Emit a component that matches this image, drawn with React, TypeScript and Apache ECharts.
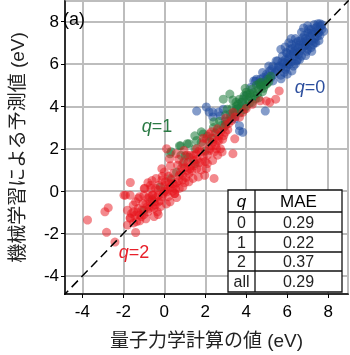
import React, { useEffect, useRef } from 'react';
import * as echarts from 'echarts';

// q = 0 (blue)
const q0Points: number[][] = [
  [7.32, 7.86], [7.63, 7.78], [7.78, 7.54], [7.16, 7.62], [7.01, 7.47], [7.47, 7.31], [7.32, 7.0], [7.16, 6.77],
  [6.85, 6.84], [6.54, 7.08], [6.77, 7.24], [6.23, 6.92], [6.16, 6.69], [6.47, 6.53], [6.7, 6.37], [7.01, 6.69],
  [6.08, 7.0], [5.69, 6.69], [5.77, 6.37], [5.46, 6.14], [5.85, 6.06], [6.08, 5.98], [6.31, 5.9], [6.23, 5.67],
  [5.92, 5.75], [5.3, 5.9], [5.15, 5.67], [4.99, 5.52], [4.68, 5.28], [4.6, 5.05], [4.37, 5.2], [5.69, 5.83],
  [5.69, 5.47], [6.0, 5.52], [7.23, 7.39], [6.93, 7.08], [7.5, 7.6], [7.4, 7.7], [7.1, 7.3], [6.9, 7.2],
  [6.6, 6.9], [6.4, 6.8], [6.3, 6.5], [6.6, 6.6], [6.9, 6.9], [7.2, 7.1], [7.5, 7.45], [6.1, 6.3],
  [5.9, 6.2], [6.0, 6.5], [5.6, 5.9], [5.4, 5.6], [5.2, 5.35], [5.0, 5.3], [4.8, 5.1], [5.5, 5.7],
  [6.4, 7.2], [6.7, 7.5], [7.0, 7.8], [6.2, 6.1], [5.8, 6.0], [7.6, 7.9], [5.53, 6.15], [4.5, 5.28],
  [4.22, 4.89], [4.45, 5.2], [4.84, 5.36], [3.99, 4.5], [3.75, 4.19], [3.52, 3.87], [3.21, 3.64], [3.44, 3.41],
  [3.67, 3.09], [3.83, 2.78], [2.74, 3.56], [1.58, 3.78], [2.05, 3.97], [2.37, 3.73], [2.88, 3.87], [2.19, 3.73],
  [2.65, 3.73], [2.37, 3.5], [2.98, 3.31], [4.93, 3.78], [3.67, 2.84], [6.5, 6.2], [7.3, 7.5], [7.7, 7.65],
  [7.45, 7.75], [7.55, 7.5], [7.35, 7.2], [7.05, 7.0], [6.8, 7.0], [6.95, 6.6], [6.75, 6.75], [6.55, 6.45],
  [6.35, 6.35], [6.45, 7.0], [6.25, 6.75], [6.05, 6.2], [5.95, 5.85], [5.75, 6.1], [5.55, 5.85], [5.35, 5.5],
  [5.25, 5.75], [5.05, 5.45], [4.9, 5.2], [4.7, 5.0], [6.85, 7.35], [7.15, 7.45], [7.6, 7.35], [7.05, 7.65],
  [6.65, 7.1], [6.35, 6.6], [6.15, 6.45], [5.95, 6.55], [6.55, 6.75], [7.25, 6.9], [5.85, 5.6], [6.45, 6.15],
  [6.6, 6.2], [7.4, 7.0], [7.7, 7.85], [7.5, 7.9], [6.9, 6.4], [7.2, 6.6], [6.4, 6.0], [5.7, 5.3],
  [5.3, 5.2], [6.2, 7.2], [5.9, 6.8], [6.8, 7.7], [7.55, 7.1], [5.1, 5.9], [4.8, 5.6], [6.0, 6.0]
];

// q = 1 (green)
const q1Points: number[][] = [
  [2.88, 4.34], [3.2, 4.58], [3.67, 4.34], [4.0, 4.67], [4.28, 4.81], [4.74, 5.14], [5.07, 5.28], [5.2, 5.42],
  [4.5, 5.0], [4.2, 4.6], [3.9, 4.5], [4.6, 4.8], [4.9, 5.0], [3.5, 4.2], [3.8, 4.2], [4.1, 4.3],
  [4.4, 4.5], [3.3, 3.9], [3.0, 3.6], [2.7, 3.3], [2.4, 3.0], [2.1, 2.6], [1.8, 2.3], [1.5, 2.0],
  [1.2, 1.6], [0.9, 1.3], [1.2, 2.24], [1.49, 2.61], [1.81, 2.8], [2.42, 3.27], [3.07, 3.87], [3.53, 4.02],
  [0.28, 1.76], [0.8, 2.14], [1.9, 2.7], [0.74, 2.14], [0.33, 1.86], [1.02, 1.67], [1.12, 2.24], [0.81, 1.69],
  [3.6, 3.9], [4.3, 4.2], [4.6, 4.4], [4.8, 4.7], [3.4, 3.6], [3.1, 3.3], [2.9, 3.0], [2.6, 2.9],
  [2.3, 2.5], [4.0, 4.0], [4.2, 4.45], [3.7, 3.7], [5.0, 5.05], [4.7, 4.95], [3.95, 4.85], [3.35, 4.3],
  [0.3, 0.6], [-0.2, 0.2], [-0.6, -0.4], [0.6, 0.9], [1.5, 1.3], [2.0, 1.9], [-1.0, -0.9], [1.58, 2.39],
  [3.6, 4.1], [3.85, 4.35], [4.05, 4.55], [4.35, 4.65], [4.55, 4.6], [4.15, 4.15], [3.75, 3.95], [3.45, 3.75],
  [3.25, 3.5], [4.65, 5.1], [4.85, 4.85], [5.1, 5.15], [3.9, 3.85], [4.45, 4.35], [2.8, 3.1], [3.0, 3.15],
  [2.5, 2.75], [2.2, 2.35]
];

// q = 2 (red)
const q2Points: number[][] = [
  [-3.75, -1.36], [-2.9, -0.97], [-2.74, -0.78], [-2.82, -1.94], [-2.41, -2.4], [-1.66, 0.41], [-1.97, -0.19], [-1.4, -1.95],
  [-1.66, -1.25], [-1.5, -0.97], [-1.27, -0.81], [-1.04, -0.58], [-0.8, -0.34], [-0.96, 0.13], [-0.65, 0.13], [-0.26, 0.28],
  [0.12, -0.03], [0.28, -0.5], [-0.19, -0.73], [-0.5, -0.5], [-0.34, -0.97], [0.51, -0.11], [-0.8, -0.97], [-1.12, -1.2],
  [-1.35, -1.43], [-0.57, -0.19], [-0.11, -0.26], [-1.27, -0.34], [0.11, 2.0], [0.26, 1.53], [-0.12, 1.06], [0.65, 1.22],
  [0.96, 1.38], [1.43, 1.69], [1.81, 1.85], [2.36, 1.45], [2.43, 0.6], [2.05, 1.06], [1.58, 1.06], [1.2, 0.83],
  [0.88, 0.52], [0.42, 0.36], [0.03, 0.28], [-0.43, 0.13], [-0.98, 0.13], [-1.21, -0.26], [-1.67, -0.19], [-1.9, -0.19],
  [-1.52, -0.66], [-1.67, -1.28], [-1.21, -1.12], [-0.74, -0.81], [-0.28, -0.5], [-0.59, -0.19], [0.19, -0.26], [0.5, -0.11],
  [0.73, 0.13], [1.2, 0.44], [1.66, 0.67], [1.97, 0.75], [1.43, 1.45], [1.81, 1.38], [2.2, 1.92], [2.51, 2.16],
  [2.67, 2.39], [2.9, 2.62], [2.82, 1.85], [1.12, 0.98], [0.73, 0.75], [-0.12, 0.52], [-0.67, 0.28], [0.57, 1.77],
  [0.96, 1.92], [1.89, 2.24], [2.2, 2.7], [2.59, 2.94], [2.98, 3.09], [3.29, 3.33], [3.36, 3.72], [3.67, 3.49],
  [3.83, 3.72], [3.44, 2.47], [2.74, 2.0], [2.43, 1.85], [5.15, 4.19], [5.61, 4.73], [4.68, 4.26], [5.44, 4.34],
  [4.98, 4.25], [3.35, 1.77], [1.27, 1.69], [1.58, 2.0], [2.05, 2.47], [2.36, 2.31], [2.67, 2.62], [2.98, 2.78],
  [4.0, 3.9], [4.3, 4.1], [3.1, 2.9], [0.0, 0.0], [0.3, 0.2], [0.6, 0.4], [-0.3, -0.2], [-0.9, -0.6],
  [-1.3, -1.0], [1.0, 1.1], [1.3, 1.2], [1.6, 1.5], [0.2, 0.7], [-0.5, -0.8], [0.4, 0.0], [-1.5, -1.5],
  [-1.1, -0.9], [-0.7, -0.5], [0.8, 0.9], [1.7, 1.9], [2.2, 2.0], [2.6, 2.4],
  [-1.2, -1.4], [-1.0, -1.1], [-0.85, -0.75], [-0.6, -0.7], [-0.4, -0.3], [-0.2, -0.45], [0.05, 0.45], [0.15, 0.1],
  [0.35, 0.55], [0.5, 0.3], [0.7, 0.5], [0.9, 0.75], [1.05, 0.65], [1.25, 1.05], [1.45, 1.2], [1.7, 1.35],
  [1.9, 1.65], [2.1, 1.7], [2.3, 2.15], [2.45, 2.5], [2.75, 2.8], [1.55, 1.75], [1.15, 1.35], [0.85, 1.1],
  [0.45, 0.85], [-0.05, -0.1], [-0.45, -0.65], [-0.75, -0.25], [-1.45, -1.15], [-1.8, -1.6], [-1.6, -1.05], [-0.3, 0.05],
  [0.25, 0.35], [1.35, 0.95], [2.0, 1.4], [2.55, 2.0], [3.15, 3.2], [3.45, 3.5], [3.0, 3.45], [2.85, 2.45],
  [-1.0, -0.2], [-0.8, 0.4], [-0.4, 0.6], [0.0, 0.9], [0.3, 1.2], [-0.3, -1.1], [0.1, -0.6], [0.6, -0.3],
  [0.9, 0.2], [1.4, 0.6], [1.8, 1.0], [2.1, 1.3], [-1.4, -0.5], [-1.8, -0.9], [-0.6, 0.5], [0.7, 1.5],
  [1.1, 1.7], [1.9, 2.5], [2.3, 2.8], [2.6, 1.7], [-0.1, 0.7], [0.55, 0.1], [1.0, 0.4], [-0.9, -1.3],
  [-0.5, -1.2]
];

const diagonal: number[][] = [[-5, -5], [9, 9]];
const axisMin = -4.85;
const axisMax = 8.97;

const tableHeader = ['q', 'MAE'];
const tableRows: string[][] = [
  ['0', '0.29'],
  ['1', '0.22'],
  ['2', '0.37'],
  ['all', '0.29'],
];

const seriesLabels = [
  { text: '{i|q}=0', color: '#2d4f9e', x: 310, y: 87 },
  { text: '{i|q}=1', color: '#2a7a44', x: 157, y: 126 },
  { text: '{i|q}=2', color: '#e8202a', x: 134, y: 252 },
];

const FONT = '"Liberation Sans", Arial, "Noto Sans CJK JP", sans-serif';

export default function App() {
  const ref = useRef<HTMLDivElement>(null);
  useEffect(() => {
    if (!ref.current) return;
    const chart = echarts.init(ref.current, undefined, { renderer: 'svg' });

    const tx = 228, ty = 190, tw = 114, th = 102, colX = 27;
    const rowTops = [0, 22, 42, 62, 81, th];
    const Z = 100;
    const tableChildren: any[] = [
      { type: 'rect', z: Z, shape: { x: 0, y: 0, width: tw, height: th }, style: { fill: '#fff', stroke: '#111', lineWidth: 1.3 } },
      { type: 'line', z: Z + 1, shape: { x1: colX, y1: 0, x2: colX, y2: th }, style: { stroke: '#111', lineWidth: 1.3 } },
    ];
    for (let i = 1; i < rowTops.length - 1; i++) {
      tableChildren.push({ type: 'line', z: Z + 1, shape: { x1: 0, y1: rowTops[i], x2: tw, y2: rowTops[i] }, style: { stroke: '#111', lineWidth: 1.3 } });
    }
    const allRows = [tableHeader, ...tableRows];
    allRows.forEach((row, r) => {
      const cy = (rowTops[r] + rowTops[r + 1]) / 2;
      row.forEach((cell, c) => {
        const cx = c === 0 ? colX / 2 : (colX + tw) / 2;
        tableChildren.push({
          type: 'text',
          z: Z + 2,
          x: cx,
          y: cy,
          style: {
            text: cell,
            fill: r === 0 ? '#000' : '#222',
            font: `${r === 0 && c === 0 ? 'italic ' : ''}${r === 0 ? 17 : 16}px ${FONT}`,
            align: 'center',
            verticalAlign: 'middle',
          },
        });
      });
    });

    const labelGraphics = seriesLabels.map((l) => ({
      type: 'text',
      x: l.x,
      y: l.y,
      z: Z,
      style: {
        text: l.text,
        fill: l.color,
        font: `18px ${FONT}`,
        align: 'center',
        verticalAlign: 'middle',
        rich: { i: { fontStyle: 'italic', fontSize: 18, fontFamily: FONT, fill: l.color } },
      },
    }));

    const axisCommon = {
      type: 'value' as const,
      min: axisMin,
      max: axisMax,
      splitNumber: 7,
      axisLine: { show: true, onZero: false, lineStyle: { color: '#000', width: 1.5 } },
      axisTick: { show: true, length: 4, lineStyle: { color: '#000', width: 1 } },
      axisLabel: { showMinLabel: false, showMaxLabel: false, color: '#000', fontSize: 17, fontFamily: FONT },
      splitLine: { show: true, lineStyle: { color: '#bdbdbd', width: 2 } },
      nameLocation: 'middle' as const,
      nameTextStyle: { color: '#222', fontSize: 19, fontFamily: FONT },
    };

    chart.setOption({
      animation: false,
      grid: { left: 52, right: 2, top: 1, bottom: 60, show: true, borderColor: '#000', borderWidth: 1.5, backgroundColor: 'transparent' },
      xAxis: { ...axisCommon, name: '量子力学計算の値 (eV)', nameGap: 37, axisLabel: { ...axisCommon.axisLabel, margin: 9 } },
      yAxis: { ...axisCommon, name: '機械学習による予測値 (eV)', nameGap: 38, axisLabel: { ...axisCommon.axisLabel, margin: 6 } },
      series: [
        { type: 'scatter', data: q0Points, symbolSize: 9, itemStyle: { color: '#1f4a9e', opacity: 0.55 }, z: 2 },
        { type: 'scatter', data: q1Points, symbolSize: 9, itemStyle: { color: '#1b7a3a', opacity: 0.55 }, z: 3 },
        { type: 'scatter', data: q2Points, symbolSize: 9, itemStyle: { color: '#e8141c', opacity: 0.5 }, z: 4 },
        { type: 'line', data: diagonal, symbol: 'none', clip: true, lineStyle: { color: '#000', width: 1.5, type: [9, 5] }, z: 5 },
      ],
      graphic: [
        { type: 'text', x: 74, y: 19, z: Z, style: { text: '(a)', fill: '#000', font: `18px ${FONT}`, align: 'center', verticalAlign: 'middle' } },
        ...labelGraphics,
        { type: 'group', x: tx, y: ty, z: Z, children: tableChildren },
      ],
    });
    return () => chart.dispose();
  }, []);
  return <div ref={ref} style={{ position: 'fixed', left: 0, top: 0, width: 350, height: 355 }} />;
}
